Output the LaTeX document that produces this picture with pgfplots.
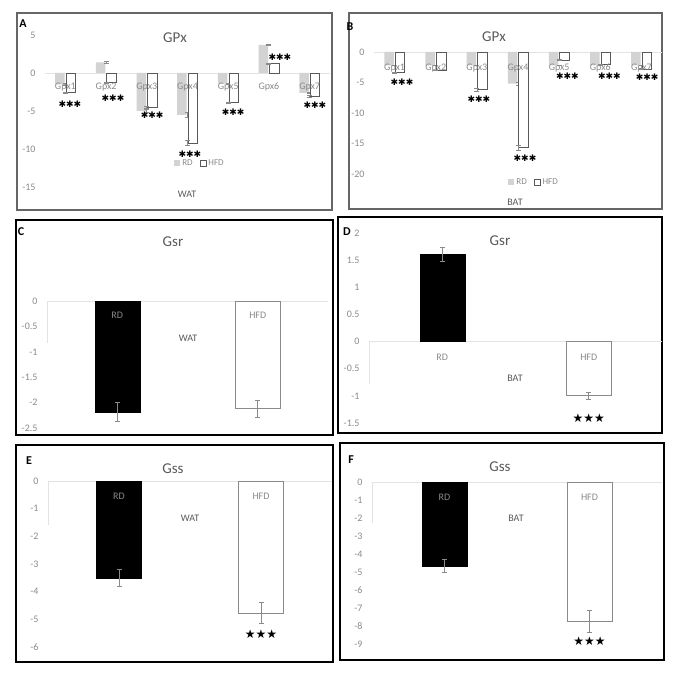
\documentclass[border=0pt]{standalone}
\usepackage{fontspec}
\setmainfont{Carlito}
\newfontfamily\symfont{DejaVu Sans}
\usepackage{pgfplots}
\pgfplotsset{compat=1.18}

\definecolor{rdgray}{HTML}{D3D3D3}
\definecolor{tickgray}{HTML}{8A8A8A}
\definecolor{titlegray}{HTML}{595959}
\definecolor{edgegray}{HTML}{8A8A8A}
\definecolor{zerogray}{HTML}{E3E3E3}

\pgfplotsset{
  panel/.style={
    scale only axis, anchor=south west, clip=false,
    axis line style={draw=none}, tick style={draw=none},
    xtick=\empty,
    yticklabel style={font=\fontsize{10}{10}\selectfont, text=tickgray, xshift=-6pt},
    /pgf/number format/assume math mode=true,
    /pgf/number format/fixed,
  },
  ebars/.style={error bars/.cd, y dir=both, y explicit,
    error bar style={tickgray, line width=0.6pt},
    error mark options={tickgray, mark size=2.5pt, line width=0.6pt, rotate=90}},
  rdsmall/.style={ybar, bar width=9.5pt, bar shift=-5.5pt, fill=rdgray, draw=none, ebars},
  hfdsmall/.style={ybar, bar width=9.5pt, bar shift=5.5pt, fill=white, draw=titlegray, line width=0.8pt, ebars},
  rdbig/.style={ybar, bar width=45pt, bar shift=0pt, fill=black, draw=black, ebars},
  hfdbig/.style={ybar, bar width=45pt, bar shift=0pt, fill=white, draw=edgegray, line width=0.8pt, ebars},
  rdleg/.style={legend image code/.code={\fill[rdgray] (0pt,-3pt) rectangle (6pt,3pt);}},
  hfdleg/.style={legend image code/.code={\draw[titlegray, fill=white, line width=0.7pt] (0pt,-3pt) rectangle (6pt,3pt);}},
  gpxlegend/.style={legend style={draw=none, fill=none, legend columns=2,
    font=\fontsize{9}{9}\selectfont, text=tickgray,
    /tikz/every even column/.append style={column sep=5pt}}},
}
\tikzset{
  catlab/.style={font=\fontsize{10}{10}\selectfont, text=tickgray},
  ttl/.style={font=\fontsize{15}{15}\selectfont, text=titlegray},
  letter/.style={font=\bfseries\fontsize{12}{12}\selectfont},
  tissue/.style={font=\fontsize{10}{10}\selectfont, text=titlegray},
  ast/.style={font=\symfont\fontsize{9}{9}\selectfont, inner sep=0pt},
  bstar/.style={font=\symfont\fontsize{12}{12}\selectfont, inner sep=0pt},
}

\begin{document}
\begin{tikzpicture}
\useasboundingbox (0,0) rectangle (674pt,675pt);

% panel frames
\draw[line width=1.3pt, black!60] (17pt,465pt) rectangle (332pt,662pt);
\draw[line width=1.3pt, black!60] (349pt,466pt) rectangle (662pt,662pt);
\draw[line width=1.8pt, black] (16pt,240pt) rectangle (333pt,455pt);
\draw[line width=1.8pt, black] (338pt,242pt) rectangle (662pt,458pt);
\draw[line width=1.8pt, black] (16pt,13pt) rectangle (333pt,230pt);
\draw[line width=1.8pt, black] (340pt,15pt) rectangle (664pt,232pt);

% ---- A: GPx, WAT
\begin{axis}[panel, gpxlegend, at={(45pt,488pt)}, width=285pt, height=152pt,
  xmin=0.5, xmax=7.5, ymin=-15, ymax=5, ytick={-15,-10,-5,0,5},
  legend style={at={(0.544,0.158)}, anchor=center}]
\addplot[draw=zerogray, line width=0.8pt, forget plot] coordinates {(0.5,0) (7.5,0)};
\addplot[rdleg, rdsmall] coordinates {
  (1,-1.5) +- (0,0.1) (2,1.4) +- (0,0.1) (3,-5.0) +- (0,0.2) (4,-5.5) +- (0,0.3)
  (5,-1.4) +- (0,0.1) (6,3.7) +- (0,0.1) (7,-2.6) +- (0,0.1)};
\addplot[hfdleg, hfdsmall] coordinates {
  (1,-2.6) +- (0,0.1) (2,-1.3) +- (0,0.05) (3,-4.5) +- (0,0.1) (4,-9.2) +- (0,0.3)
  (5,-3.9) +- (0,0.1) (6,1.2) +- (0,0.05) (7,-3.1) +- (0,0.15)};
\legend{RD, HFD}
\pgfplotsinvokeforeach{1,...,7}{\node[catlab] at (axis cs:#1,0) [yshift=-14pt] {Gpx#1};}
\node[ast] at (axis cs:1.11,-4.1) {✱✱✱};
\node[ast] at (axis cs:2.17,-3.3) {✱✱✱};
\node[ast] at (axis cs:3.13,-5.5) {✱✱✱};
\node[ast] at (axis cs:4.06,-10.7) {✱✱✱};
\node[ast] at (axis cs:5.12,-5.1) {✱✱✱};
\node[ast] at (axis cs:6.27,2.1) {✱✱✱};
\node[ast] at (axis cs:7.13,-4.3) {✱✱✱};
\end{axis}
\node[ttl] at (175pt,637pt) {GPx};
\node[letter] at (23pt,651pt) {A};
\node[tissue] at (187pt,481pt) {WAT};

% ---- B: GPx, BAT
\begin{axis}[panel, gpxlegend, at={(374pt,501pt)}, width=288pt, height=122pt,
  xmin=0.5, xmax=7.5, ymin=-20, ymax=0, ytick={-20,-15,-10,-5,0},
  legend style={at={(0.556,-0.066)}, anchor=center}]
\addplot[draw=zerogray, line width=0.8pt, forget plot] coordinates {(0.5,0) (7.5,0)};
\addplot[rdleg, rdsmall] coordinates {
  (1,-2.2) +- (0,0.05) (2,-2.2) +- (0,0.05) (3,-2.2) +- (0,0.05) (4,-5.2) +- (0,0.3)
  (5,-2.2) +- (0,0.05) (6,-2.2) +- (0,0.05) (7,-2.2) +- (0,0.05)};
\addplot[hfdleg, hfdsmall] coordinates {
  (1,-3.4) +- (0,0.1) (2,-3.0) +- (0,0.05) (3,-6.2) +- (0,0.2) (4,-15.7) +- (0,0.4)
  (5,-1.3) +- (0,0.05) (6,-2.0) +- (0,0.05) (7,-2.8) +- (0,0.1)};
\legend{RD, HFD}
\pgfplotsinvokeforeach{1,...,7}{\node[catlab] at (axis cs:#1,0) [yshift=-16pt] {Gpx#1};}
\node[ast] at (axis cs:1.18,-4.9) {✱✱✱};
\node[ast] at (axis cs:3.05,-7.7) {✱✱✱};
\node[ast] at (axis cs:4.17,-17.4) {✱✱✱};
\node[ast] at (axis cs:5.2,-3.9) {✱✱✱};
\node[ast] at (axis cs:6.22,-3.9) {✱✱✱};
\node[ast] at (axis cs:7.14,-4.2) {✱✱✱};
\end{axis}
\node[ttl] at (494pt,638pt) {GPx};
\node[letter] at (350pt,648pt) {B};
\node[tissue] at (515pt,473pt) {BAT};

% ---- C: Gsr, WAT
\begin{axis}[panel, at={(47pt,247pt)}, width=281pt, height=127pt,
  xmin=0.5, xmax=2.5, ymin=-2.5, ymax=0, ytick={-2.5,-2,-1.5,-1,-0.5,0}]
\addplot[draw=zerogray, line width=0.8pt, forget plot] coordinates {(0.5,0) (2.5,0)};
\draw[zerogray, line width=0.8pt] (axis cs:0.5,0) -- (axis cs:0.5,-0.83);
\addplot[rdbig] coordinates {(1,-2.18) +- (0,0.18)};
\addplot[hfdbig] coordinates {(2,-2.12) +- (0,0.17)};
\node[catlab] at (axis cs:1,0) [yshift=-14pt] {RD};
\node[catlab] at (axis cs:2,0) [yshift=-14pt] {HFD};
\end{axis}
\node[ttl] at (173pt,433pt) {Gsr};
\node[letter] at (21pt,443pt) {C};
\node[tissue] at (188pt,337pt) {WAT};

% ---- D: Gsr, BAT
\begin{axis}[panel, at={(369pt,252pt)}, width=293pt, height=190pt,
  xmin=0.5, xmax=2.5, ymin=-1.5, ymax=2, ytick={-1.5,-1,-0.5,0,0.5,1,1.5,2}]
\addplot[draw=zerogray, line width=0.8pt, forget plot] coordinates {(0.5,0) (2.5,0)};
\draw[zerogray, line width=0.8pt] (axis cs:0.5,0) -- (axis cs:0.5,-0.78);
\addplot[rdbig] coordinates {(1,1.61) +- (0,0.13)};
\addplot[hfdbig] coordinates {(2,-1.0) +- (0,0.07)};
\node[catlab] at (axis cs:1,0) [yshift=-16pt] {RD};
\node[catlab] at (axis cs:2,0) [yshift=-16pt] {HFD};
\node[bstar] at (axis cs:2,-1.41) {★★★};
\end{axis}
\node[ttl] at (500pt,434pt) {Gsr};
\node[letter] at (347pt,443pt) {D};
\node[tissue] at (515pt,297pt) {BAT};

% ---- E: Gss, WAT
\begin{axis}[panel, at={(48pt,28pt)}, width=284pt, height=166pt,
  xmin=0.5, xmax=2.5, ymin=-6, ymax=0, ytick={-6,-5,...,0}]
\addplot[draw=zerogray, line width=0.8pt, forget plot] coordinates {(0.5,0) (2.5,0)};
\draw[zerogray, line width=0.8pt] (axis cs:0.5,0) -- (axis cs:0.5,-1.6);
\addplot[rdbig] coordinates {(1,-3.5) +- (0,0.3)};
\addplot[hfdbig] coordinates {(2,-4.77) +- (0,0.38)};
\node[catlab] at (axis cs:1,0) [yshift=-15pt] {RD};
\node[catlab] at (axis cs:2,0) [yshift=-15pt] {HFD};
\node[bstar] at (axis cs:2,-5.52) {★★★};
\end{axis}
\node[ttl] at (173pt,206pt) {Gss};
\node[letter] at (29pt,214pt) {E};
\node[tissue] at (190pt,157pt) {WAT};

% ---- F: Gss, BAT
\begin{axis}[panel, at={(372pt,31pt)}, width=290pt, height=162pt,
  xmin=0.5, xmax=2.5, ymin=-9, ymax=0, ytick={-9,-8,...,0}]
\addplot[draw=zerogray, line width=0.8pt, forget plot] coordinates {(0.5,0) (2.5,0)};
\draw[zerogray, line width=0.8pt] (axis cs:0.5,0) -- (axis cs:0.5,-2.3);
\addplot[rdbig] coordinates {(1,-4.65) +- (0,0.35)};
\addplot[hfdbig] coordinates {(2,-7.75) +- (0,0.6)};
\node[catlab] at (axis cs:1,0) [yshift=-15pt] {RD};
\node[catlab] at (axis cs:2,0) [yshift=-15pt] {HFD};
\node[bstar] at (axis cs:2,-8.84) {★★★};
\end{axis}
\node[ttl] at (500pt,208pt) {Gss};
\node[letter] at (351pt,215pt) {F};
\node[tissue] at (516pt,157pt) {BAT};
\end{tikzpicture}
\end{document}
